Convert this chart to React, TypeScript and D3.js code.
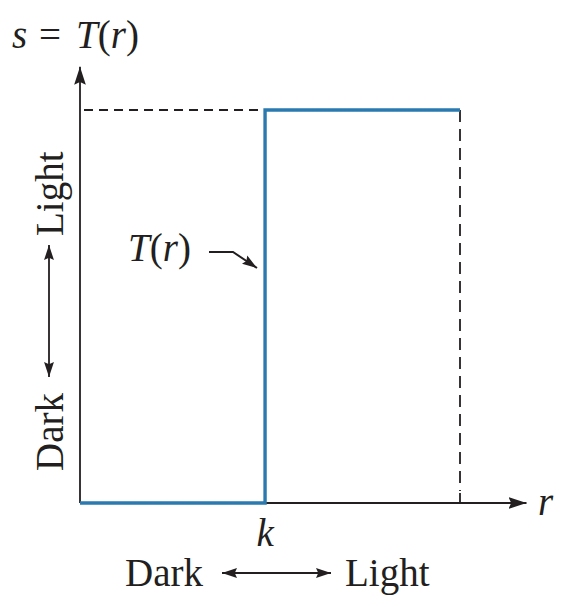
import * as d3 from 'd3';

// Thresholding transform: T(r) = 0 below k, L-1 above.
const R_MAX = 1; // L - 1
const K = 0.487;
const STEP_R = [0, K, K, R_MAX];
const STEP_S = [0, 0, 1, 1];

const W = 583;
const H = 607;
const X0 = 80;
const X1 = 460;
const Y0 = 503;
const Y1 = 110;

const BLUE = '#2a7ab0';
const INK = '#231f20';
const FONT = '"Liberation Serif", "DejaVu Serif", serif';
const FS = 39;

export default function App() {
  const x = d3.scaleLinear().domain([0, R_MAX]).range([X0, X1]);
  const y = d3.scaleLinear().domain([0, 1]).range([Y0, Y1]);

  const line = d3
    .line<number>()
    .x((_, i) => x(STEP_R[i]))
    .y((d) => y(d));

  const xEnd = x(1.175);
  const yEnd = y(1.11);

  return (
    <svg
      width={W}
      height={H}
      style={{ position: 'absolute', left: 0, top: 0, background: '#fff' }}
    >
      <defs>
        <marker id="ah" viewBox="0 0 10 10" refX="10" refY="5" markerWidth="15" markerHeight="11" orient="auto-start-reverse" markerUnits="userSpaceOnUse" preserveAspectRatio="none">
          <path d="M0,0.5 L10,5 L0,9.5 L1.5,5 Z" fill={INK} />
        </marker>
        <marker id="ahBig" viewBox="0 0 10 10" refX="10" refY="5" markerWidth="18" markerHeight="13" orient="auto-start-reverse" markerUnits="userSpaceOnUse" preserveAspectRatio="none">
          <path d="M0,0.5 L10,5 L0,9.5 L1.5,5 Z" fill={INK} />
        </marker>
      </defs>

      {/* axes */}
      <line x1={x(0)} y1={y(0)} x2={xEnd} y2={y(0)} stroke={INK} strokeWidth={1.8} markerEnd="url(#ahBig)" />
      <line x1={x(0)} y1={y(0)} x2={x(0)} y2={yEnd} stroke={INK} strokeWidth={1.8} markerEnd="url(#ahBig)" />

      {/* dashed guides */}
      <line x1={x(0) + 4} y1={y(1)} x2={x(K)} y2={y(1)} stroke={INK} strokeWidth={1.8} strokeDasharray="9,6" />
      <line x1={x(R_MAX)} y1={y(1)} x2={x(R_MAX)} y2={y(0) - 12} stroke={INK} strokeWidth={1.8} strokeDasharray="12,7" />
      <line x1={x(R_MAX)} y1={y(0) - 10} x2={x(R_MAX)} y2={y(0)} stroke={INK} strokeWidth={1.8} />

      {/* transformation */}
      <path d={line(STEP_S) ?? ''} fill="none" stroke={BLUE} strokeWidth={3.4} />

      {/* labels */}
      <text y={48} fontFamily={FONT} fontSize={FS} fill={INK}>
        <tspan x={12} fontStyle="italic">s</tspan>
        <tspan x={39}>=</tspan>
        <tspan x={76} fontStyle="italic">T</tspan>
        <tspan>(</tspan>
        <tspan fontStyle="italic">r</tspan>
        <tspan>)</tspan>
      </text>
      <text x={538} y={515} fontFamily={FONT} fontSize={FS} fontStyle="italic" fill={INK}>r</text>
      <text x={x(K)} y={546} textAnchor="middle" fontFamily={FONT} fontSize={FS} fontStyle="italic" fill={INK}>k</text>
      <text x={128} y={261} fontFamily={FONT} fontSize={FS} fill={INK}>
        <tspan fontStyle="italic">T</tspan>(<tspan fontStyle="italic">r</tspan>)
      </text>
      <path d="M209,252 L233,252 L257,268" fill="none" stroke={INK} strokeWidth={2} markerEnd="url(#ah)" />

      {/* horizontal Dark <-> Light */}
      <text x={125} y={586} fontFamily={FONT} fontSize={FS} fill={INK}>Dark</text>
      <line x1={222} y1={573} x2={331} y2={573} stroke={INK} strokeWidth={1.8} markerStart="url(#ah)" markerEnd="url(#ah)" />
      <text x={345} y={586} fontFamily={FONT} fontSize={FS} fill={INK}>Light</text>

      {/* vertical Dark <-> Light */}
      <g transform="translate(63,0) rotate(-90)">
        <text x={-471} y={0} fontFamily={FONT} fontSize={FS} fill={INK}>Dark</text>
        <line x1={-377} y1={-14} x2={-245} y2={-14} stroke={INK} strokeWidth={1.8} markerStart="url(#ah)" markerEnd="url(#ah)" />
        <text x={-236} y={0} fontFamily={FONT} fontSize={FS} fill={INK}>Light</text>
      </g>
    </svg>
  );
}
